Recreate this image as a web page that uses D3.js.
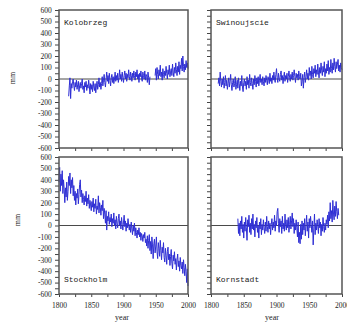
<!DOCTYPE html>
<html>
<head>
<meta charset="utf-8">
<script src="https://cdn.jsdelivr.net/npm/d3@7"></script>
<style>
  body { margin: 0; background: #fff; }
  svg { display: block; }
  .tick text { font-family: "Liberation Serif", "DejaVu Serif", serif; font-size: 7.5px; fill: #222; }
  .domain { display: none; }
  .tick line { stroke: #444; }
</style>
</head>
<body>
<svg id="chart" width="347" height="322"></svg>
<script>
// annual sea level anomalies (mm)
const kolobrzegStart = 1815;
const kolobrzeg = [
  -150, -60, 10, -170, -40, -80, -20, 0, -60, -100,
  -30, -70, -10, -90, -50, -20, -110, -60, -30, -80,
  -40, 0, -90, -60, -120, -30, -70, -20, -100, -50,
  -80, -10, -60, -130, -40, -90, -50, -110, -20, -70,
  -100, -40, -120, -60, -20, -90, -50, 10, -70, -30,
  -90, -40, 20, -60, -10, 40, -30, -70, 0, 60,
  -20, 30, -40, 50, -10, -60, 10, 40, -30, 20,
  -40, 0, 60, -20, 30, -10, 50, -30, 10, 80,
  0, 40, -20, 60, 10, -30, 30, 70, 0, 50,
  -20, 40, 10, 80, 20, -10, 60, 30, -20, 50,
  10, 70, 30, -10, 60, 20, 80, 0, 40, -30,
  50, 20, 70, 10, -20, 60, 30, 0, 70, -10,
  40, 20, -30, 60, 10, -50, 20, null, null, null,
  null, null, null, null, 30, 90, -10, 100, 40, 0,
  80, 30, 120, 20, 60, -10, 90, 40, 10, 70,
  30, 110, 50, 0, 80, 40, 120, 20, 60, 90,
  30, 130, 60, 20, 100, 50, 140, 80, 30, 110,
  60, 150, 40, 120, 90, 180, 70, 200, 110, 60,
  130, 80, 160, 100, 140, 90
];

const swinoujscieStart = 1811;
const swinoujscie = [
  -40, 10, -60, 60, -20, -70, 0, -50, 20, -80,
  -30, 30, -60, -10, -90, -40, 10, -70, -20, 40,
  -50, -100, -30, 0, -70, -40, 20, -90, -50, -10,
  -80, 10, -40, -100, -20, -60, 30, -70, -110, -30,
  0, -60, -20, -90, 20, -50, -10, -80, 40, -30,
  -60, 10, -40, -90, 0, -50, 30, -20, -70, 10,
  -40, 20, -60, -10, 40, -30, 0, -50, 20, -20,
  -60, 10, -30, 30, -10, -50, 20, 0, -40, 50,
  -20, 10, -40, 30, -10, 60, 0, -30, 40, 90,
  10, -30, 50, 0, -20, 40, 70, -10, 30, -40,
  20, 60, -20, 30, 0, 50, -30, 20, 70, 10,
  -20, 40, 0, 60, -10, 30, 80, 20, -30, 50,
  10, 40, -10, 70, 20, 0, 50, -60, -20, 40,
  -80, 10, 60, -30, 20, 80, 0, 50, -10, 100,
  30, 70, 0, 110, 40, 10, 90, 50, 120, 20,
  80, 40, 130, 60, 10, 100, 50, 140, 70, 30,
  110, 60, 150, 20, 90, 50, 130, 70, 160, 40,
  100, 60, 170, 90, 50, 140, 80, 180, 110, 60,
  150, 90, 130, 170, 70, 120, 60, 140, 100, 80
];

const stockholmStart = 1800;
const stockholm = [
  380, 510, 300, 450, 350, 480, 280, 400, 320, 200,
  330, 250, 380, 220, 300, 430, 350, 460, 280, 400,
  330, 420, 260, 350, 220, 300, 180, 280, 240, 320,
  190, 270, 360, 400, 250, 310, 200, 280, 230, 180,
  260, 210, 300, 170, 240, 190, 270, 150, 220, 180,
  130, 210, 160, 240, 120, 190, 150, 230, 100, 170,
  140, 260, 110, 200, 160, 90, 180, 130, 220, 60,
  150, 100, 20, 130, -40, 80, 40, 120, 10, 70,
  30, 100, -10, 60, 20, 110, 0, 50, -30, 80,
  20, -20, 60, 100, 0, 40, -30, 70, 10, -40,
  30, 90, -10, 40, -50, 20, -20, 60, 0, -40,
  10, -60, 30, -30, -80, 0, -50, 20, -90, -20,
  -60, -110, -40, -80, -20, -100, -60, -130, -70, -90,
  -140, -80, -110, -60, -150, -120, -180, -90, -200, -130,
  -80, -220, -140, -250, -100, -170, -290, -160, -120, -240,
  -180, -100, -230, -290, -150, -200, -270, -130, -220, -300,
  -190, -240, -150, -280, -320, -200, -260, -340, -230, -190,
  -300, -250, -350, -270, -210, -330, -380, -260, -310, -230,
  -340, -290, -390, -300, -250, -360, -310, -400, -280, -350,
  -380, -320, -420, -300, -370, -440, -340, -400, -500, -380,
  -530
];

const kornstadtStart = 1841;
const kornstadt = [
  60, -70, 20, -90, 40, -30, 80, -60, 10, -110,
  30, -50, 70, -20, -130, 50, -10, 90, -60, 20,
  -80, 60, -30, 100, -40, 10, -100, 40, -20, 70,
  -60, 0, -110, 30, -30, 60, -80, 10, -40, 50,
  -20, -70, 30, -50, 80, -10, -60, 40, -30, 20,
  -80, 10, 60, -40, 30, -20, 90, -50, 40, 0,
  120, 150, 20, -60, 60, -10, 40, -70, 80, -30,
  20, -50, 100, 0, -40, 50, -20, 70, -60, 10,
  80, -30, 40, 110, -10, 60, -70, 20, -40, 50,
  -20, -100, 30, -150, -60, -160, 10, -120, 40, -80,
  20, -40, 60, -90, 0, 90, -50, 30, -110, 60,
  -20, 80, 10, -60, 40, -170, -30, 100, -80, 20,
  -40, 50, 0, -70, 60, -20, 30, -90, 10, -50,
  70, -10, -60, 20, -40, 50, 10, 90, -20, 120,
  40, 200, 60, 130, 30, 220, 100, 50, 170, 80,
  210, 120, 60, 150, 90
];

const yTicks = [-600, -500, -400, -300, -200, -100, 0, 100, 200, 300, 400, 500, 600];
const xLabels = [1800, 1850, 1900, 1950, 2000];

const panels = [
  { name: "Kolobrzeg", start: kolobrzegStart, values: kolobrzeg, col: 0, row: 0, labelPos: "top" },
  { name: "Swinoujscie", start: swinoujscieStart, values: swinoujscie, col: 1, row: 0, labelPos: "top" },
  { name: "Stockholm", start: stockholmStart, values: stockholm, col: 0, row: 1, labelPos: "bottom" },
  { name: "Kornstadt", start: kornstadtStart, values: kornstadt, col: 1, row: 1, labelPos: "bottom" }
];

const cols = [[59, 188], [211, 342]];
const rows = [[10, 148], [157, 294]];

const svg = d3.select("#chart");

panels.forEach(p => {
  const [x0, x1] = cols[p.col];
  const [y0, y1] = rows[p.row];

  const x = d3.scaleLinear().domain([1800, 2000]).range([x0, x1]);
  const y = d3.scaleLinear().domain([-600, 600]).range([y1, y0]);

  const g = svg.append("g");

  // y axis: ticks every 50, labels only on the left column
  const yAxis = d3.axisLeft(y)
    .tickValues(d3.range(-600, 601, 50))
    .tickSize(4)
    .tickSizeOuter(0)
    .tickFormat(d => (p.col === 0 && yTicks.includes(d)) ? d : "");
  g.append("g").attr("transform", `translate(${x0},0)`).call(yAxis)
    .selectAll("text").attr("dx", "-0.3");

  // x axis: ticks every 25 years, labels only on bottom row
  const xAxis = d3.axisBottom(x)
    .tickValues(d3.range(1800, 2001, 25))
    .tickSize(3)
    .tickSizeOuter(0)
    .tickFormat(d => (p.row === 1 && xLabels.includes(d)) ? d : "");
  g.append("g").attr("transform", `translate(0,${y1})`).call(xAxis)
    .selectAll("text").attr("dy", "1.1em");

  // zero line
  g.append("line")
    .attr("x1", x0).attr("x2", x1)
    .attr("y1", y(0)).attr("y2", y(0))
    .attr("stroke", "#4a4a4a").attr("stroke-width", 1);

  // series
  const line = d3.line()
    .defined(d => d != null)
    .x((d, i) => x(p.start + i))
    .y(d => y(d));
  g.append("path")
    .datum(p.values)
    .attr("fill", "none")
    .attr("stroke", "#2e2ed4")
    .attr("stroke-width", 1)
    .attr("d", line);

  // frame
  g.append("rect")
    .attr("x", x0).attr("y", y0)
    .attr("width", x1 - x0).attr("height", y1 - y0)
    .attr("fill", "none")
    .attr("stroke", "#555").attr("stroke-width", 1.5);

  // station name
  g.append("text")
    .attr("x", x0 + 5)
    .attr("y", p.labelPos === "top" ? y0 + 15 : y1 - 12)
    .style("font-family", "'Liberation Mono', 'DejaVu Sans Mono', monospace")
    .style("font-size", "8px")
    .attr("fill", "#222")
    .text(p.name);
});

// axis titles
[[15, 78], [20, 220]].forEach(([tx, ty]) => {
  svg.append("text")
    .attr("transform", `translate(${tx},${ty}) rotate(-90)`)
    .attr("text-anchor", "middle")
    .style("font-family", "'Liberation Serif', 'DejaVu Serif', serif")
    .style("font-size", "8px")
    .attr("fill", "#222")
    .text("mm");
});

[122, 272].forEach(tx => {
  svg.append("text")
    .attr("x", tx).attr("y", 319.5)
    .attr("text-anchor", "middle")
    .style("font-family", "'Liberation Serif', 'DejaVu Serif', serif")
    .style("font-size", "8px")
    .attr("fill", "#222")
    .text("year");
});
</script>
</body>
</html>
